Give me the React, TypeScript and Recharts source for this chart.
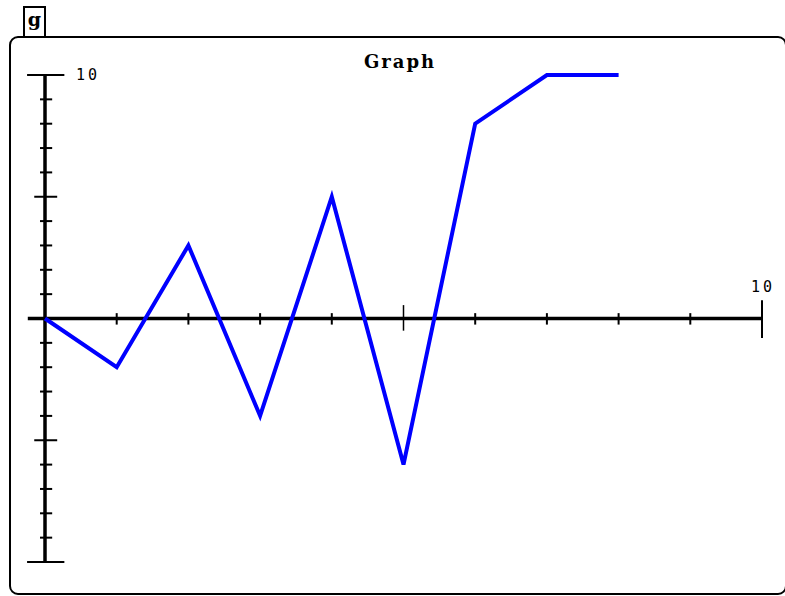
import React from "react"
import {
  LineChart,
  Line,
  XAxis,
  YAxis,
  ReferenceLine,
  ReferenceDot,
} from "recharts"

// values
const xValues = [0, 1, 2, 3, 4, 5, 6, 7, 8]
const yValues = [0, -2, 3, -4, 5, -6, 8, 10, 10]

const xMinorTicks = [1, 2, 3, 4, 6, 7, 8, 9]
const xMajorTicks = [5]
const yMinorTicks = [-9, -8, -7, -6, -4, -3, -2, -1, 1, 2, 3, 4, 6, 7, 8, 9]
const yMajorTicks = [-5, 5]
const yCaps = [-10, 10]

const data = xValues.map((x, i) => ({ x, y: yValues[i] }))

const INK = "#000"
const monoFont = "'DejaVu Sans Mono', monospace"

const tickLabel = (text: string, dx: number, dy: number, anchor: string) =>
  (props: any) => (
    <text
      x={props.cx + dx}
      y={props.cy + dy}
      textAnchor={anchor}
      fontFamily={monoFont}
      fontSize={15}
      letterSpacing={3}
      fill={INK}
    >
      {text}
    </text>
  )

export default function App() {
  return (
    <div
      style={{
        position: "absolute",
        left: 0,
        top: 0,
        width: 785,
        height: 596,
        background: "#fff",
      }}
    >
      {/* tab with the window letter */}
      <div
        style={{
          position: "absolute",
          left: 23,
          top: 6,
          width: 23,
          height: 32,
          boxSizing: "border-box",
          border: "2px solid #000",
          borderBottom: "none",
          fontFamily: "'DejaVu Serif', serif",
          fontWeight: "bold",
          fontSize: 19,
          lineHeight: "22px",
          textAlign: "center",
        }}
      >
        g
      </div>
      {/* window frame */}
      <div
        style={{
          position: "absolute",
          left: 9,
          top: 36,
          width: 778,
          height: 559,
          boxSizing: "border-box",
          border: "2px solid #000",
          borderRadius: 9,
        }}
      />
      <div
        style={{
          position: "absolute",
          left: 300,
          top: 51,
          width: 200,
          textAlign: "center",
          fontFamily: "'DejaVu Serif', serif",
          fontWeight: 900,
          fontSize: 18,
          letterSpacing: 2,
        }}
      >
        Graph
      </div>

      <div style={{ position: "absolute", left: 0, top: 0 }}>
        <LineChart
          width={785}
          height={596}
          data={data}
          margin={{ top: 75, right: 23, bottom: 34, left: 45 }}
        >
          <XAxis dataKey="x" type="number" domain={[0, 10]} hide />
          <YAxis type="number" domain={[-10, 10]} hide />

          {/* axes */}
          <ReferenceLine
            segment={[{ x: -0.24, y: 0 }, { x: 10, y: 0 }]}
            stroke={INK}
            strokeWidth={3.5}
            ifOverflow="visible"
          />
          <ReferenceLine
            segment={[{ x: 0, y: -10 }, { x: 0, y: 10 }]}
            stroke={INK}
            strokeWidth={3.5}
            ifOverflow="visible"
          />
          {yCaps.map((v) => (
            <ReferenceLine
              key={`cap${v}`}
              segment={[{ x: -0.25, y: v }, { x: 0.27, y: v }]}
              stroke={INK}
              strokeWidth={2}
              ifOverflow="visible"
            />
          ))}
          <ReferenceLine
            segment={[{ x: 10, y: 0.75 }, { x: 10, y: -0.8 }]}
            stroke={INK}
            strokeWidth={2}
            ifOverflow="visible"
          />

          {/* tick marks */}
          {xMinorTicks.map((v) => (
            <ReferenceLine
              key={`xm${v}`}
              segment={[{ x: v, y: 0.22 }, { x: v, y: -0.25 }]}
              stroke={INK}
              strokeWidth={2}
              ifOverflow="visible"
            />
          ))}
          {xMajorTicks.map((v) => (
            <ReferenceLine
              key={`xM${v}`}
              segment={[{ x: v, y: 0.55 }, { x: v, y: -0.5 }]}
              stroke={INK}
              strokeWidth={1.5}
              ifOverflow="visible"
            />
          ))}
          {yMinorTicks.map((v) => (
            <ReferenceLine
              key={`ym${v}`}
              segment={[{ x: -0.07, y: v }, { x: 0.1, y: v }]}
              stroke={INK}
              strokeWidth={2}
              ifOverflow="visible"
            />
          ))}
          {yMajorTicks.map((v) => (
            <ReferenceLine
              key={`yM${v}`}
              segment={[{ x: -0.15, y: v }, { x: 0.17, y: v }]}
              stroke={INK}
              strokeWidth={2}
              ifOverflow="visible"
            />
          ))}

          {/* axis end labels */}
          <ReferenceDot
            x={0}
            y={10}
            r={0}
            ifOverflow="visible"
            shape={tickLabel("10", 31, 5, "start")}
          />
          <ReferenceDot
            x={10}
            y={0}
            r={0}
            ifOverflow="visible"
            shape={tickLabel("10", 1, -27, "middle")}
          />

          <Line
            dataKey="y"
            type="linear"
            stroke="#0000ff"
            strokeWidth={4}
            dot={false}
            isAnimationActive={false}
          />
        </LineChart>
      </div>
    </div>
  )
}
